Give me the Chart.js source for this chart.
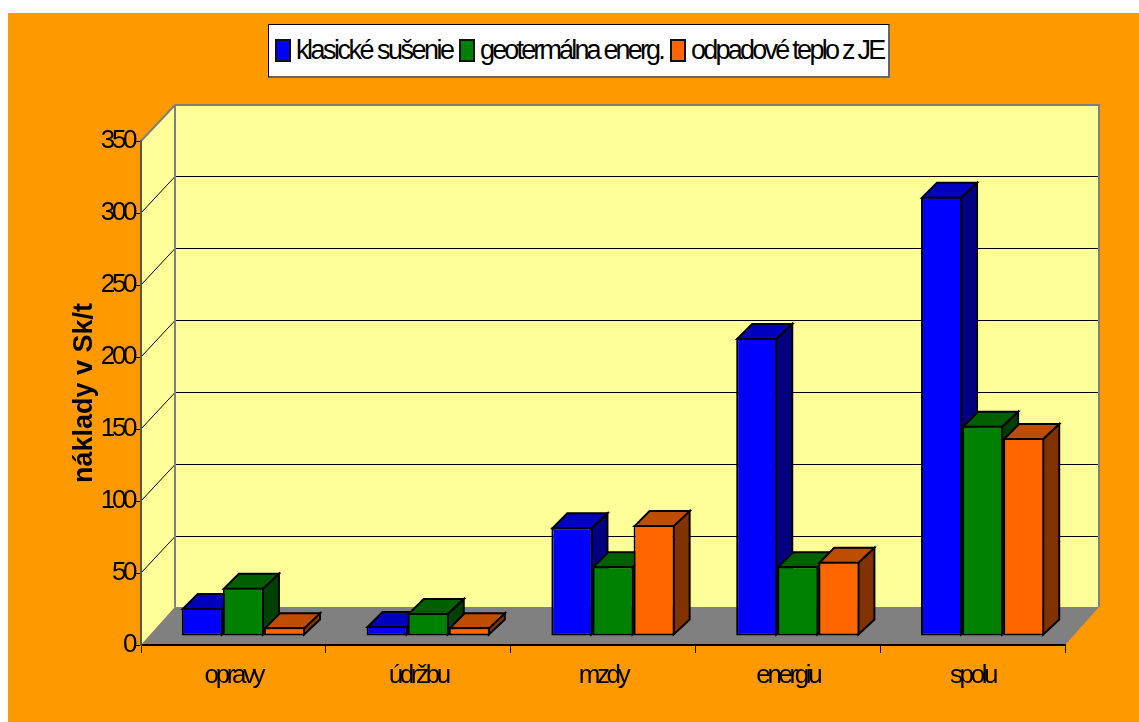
<!DOCTYPE html>
<html>
<head>
<meta charset="utf-8">
<script src="https://cdn.jsdelivr.net/npm/chart.js@4"></script>
<style>
  html, body { margin: 0; padding: 0; background: #fff; overflow: hidden; }
  #frame { position: absolute; left: 8px; top: 13px; width: 1131px; height: 709px; background: #ff9900; }
  #chart { position: absolute; left: 0; top: 0; }
  #legend {
    position: absolute; left: 260px; top: 11px; width: 619px; height: 51px;
    background: #fff; border: 1px solid #000; border-right: 2px solid #666; border-bottom: 2px solid #666;
    font: 27px "Liberation Sans", sans-serif; color: #000;
  }
  #legend .item { position: absolute; top: 0; height: 51px; line-height: 50px; white-space: nowrap; }
  #legend .swatch { position: absolute; left: 0; top: 14px; width: 12px; height: 19px; border: 2px solid #111; }
  #legend .name { position: absolute; left: 21px; top: 0; }
</style>
</head>
<body>
<div id="frame">
  <canvas id="chart" width="1131" height="709"></canvas>
  <div id="legend"></div>
</div>
<script>
const categories = ["opravy", "údržbu", "mzdy", "energiu", "spolu"];
const classicDrying = [19.5, 7, 75.5, 207, 305];
const geothermal = [33.5, 16, 48.5, 48.5, 146];
const wasteHeat = [6, 6, 77, 51.5, 137.5];
const seriesNames = ["klasické sušenie", "geotermálna energ.", "odpadové teplo z JE"];

const frontColors = ["#0000ff", "#008000", "#ff6600"];
const topColors = ["#0000bf", "#006000", "#bf4d00"];
const sideColors = ["#000080", "#004000", "#803300"];

// room depth and where the bars stand inside it
const roomDx = 34, roomDy = 36, floorDy = 38;
const barShiftX = 10, barShiftY = 9;
const barDx = 15, barDy = 15;
const legendLefts = [6, 190, 401];
const legendSpacing = [-2.5, -2.85, -2.75];

function poly(ctx, pts, fill, stroke, lineWidth) {
  ctx.beginPath();
  pts.forEach((p, i) => (i ? ctx.lineTo(p[0], p[1]) : ctx.moveTo(p[0], p[1])));
  ctx.closePath();
  if (fill) {
    ctx.fillStyle = fill;
    ctx.fill();
  }
  if (stroke) {
    ctx.strokeStyle = stroke;
    ctx.lineWidth = lineWidth;
    ctx.stroke();
  }
}

const room3d = {
  id: "room3d",
  beforeDraw(chart) {
    const { ctx, chartArea: a, scales } = chart;
    const backL = a.left + roomDx, backR = a.right + roomDx;
    const backT = a.top - roomDy, backB = a.bottom - floorDy;
    ctx.save();
    poly(ctx, [[a.left, a.top], [backL, backT], [backL, backB], [a.left, a.bottom]], "#ffff99");
    poly(ctx, [[backL, backT], [backR, backT], [backR, backB], [backL, backB]], "#ffff99");
    poly(ctx, [[a.left, a.bottom], [a.right, a.bottom], [backR, backB], [backL, backB]], "#808080");

    ctx.strokeStyle = "#000";
    ctx.lineWidth = 1;
    scales.y.ticks.forEach((t, i) => {
      if (t.value === 0 || t.value === scales.y.max) return;
      const py = Math.round(scales.y.getPixelForTick(i));
      ctx.beginPath();
      ctx.moveTo(a.left, py);
      ctx.lineTo(backL, py - roomDy - 0.5);
      ctx.lineTo(backR, py - roomDy - 0.5);
      ctx.stroke();
    });

    ctx.strokeStyle = "#808080";
    ctx.lineWidth = 2;
    ctx.beginPath();
    ctx.moveTo(a.left, a.top);
    ctx.lineTo(backL, backT);
    ctx.lineTo(backR, backT);
    ctx.lineTo(backR, backB);
    ctx.moveTo(backL, backT);
    ctx.lineTo(backL, backB);
    ctx.stroke();
    ctx.restore();
  },
  beforeDatasetsDraw(chart) {
    const { ctx } = chart;
    ctx.save();
    ctx.translate(barShiftX, -barShiftY);
    ctx.lineJoin = "miter";
    chart.data.datasets.forEach((ds, di) => {
      chart.getDatasetMeta(di).data.forEach((bar) => {
        const p = bar.getProps(["x", "y", "base", "width"], true);
        const l = p.x - p.width / 2, r = p.x + p.width / 2;
        poly(ctx, [[r - 1, p.y + 1], [r + barDx, p.y + 1 - barDy], [r + barDx, p.base - 1 - barDy], [r - 1, p.base - 1]],
          sideColors[di], "#000", 2);
        poly(ctx, [[l + 1, p.y + 1], [l + 1 + barDx, p.y + 1 - barDy], [r + barDx, p.y + 1 - barDy], [r - 1, p.y + 1]],
          topColors[di], "#000", 2);
      });
    });
  },
  afterDatasetsDraw(chart) {
    chart.ctx.restore();
    // tick labels are on a later layer, the squeezed look of the original
    chart.ctx.letterSpacing = "-3.4px";
  },
  afterDraw(chart) {
    chart.ctx.letterSpacing = "0px";
  },
};

const htmlLegend = {
  id: "htmlLegend",
  afterUpdate(chart) {
    const box = document.getElementById("legend");
    box.innerHTML = "";
    chart.data.datasets.forEach((ds, i) => {
      const item = document.createElement("div");
      item.className = "item";
      item.style.left = legendLefts[i] + "px";
      item.style.letterSpacing = legendSpacing[i] + "px";
      const swatch = document.createElement("div");
      swatch.className = "swatch";
      swatch.style.background = ds.backgroundColor;
      const name = document.createElement("span");
      name.className = "name";
      name.textContent = ds.label;
      item.append(swatch, name);
      box.appendChild(item);
    });
  },
};

const makeDataset = (label, data, i) => ({
  label,
  data,
  backgroundColor: frontColors[i],
  borderColor: "#000",
  borderWidth: 2,
  borderSkipped: false,
  categoryPercentage: 0.667,
  barPercentage: 1,
  clip: false,
});

new Chart(document.getElementById("chart").getContext("2d"), {
  type: "bar",
  data: {
    labels: categories,
    datasets: [
      makeDataset(seriesNames[0], classicDrying, 0),
      makeDataset(seriesNames[1], geothermal, 1),
      makeDataset(seriesNames[2], wasteHeat, 2),
    ],
  },
  plugins: [room3d, htmlLegend],
  options: {
    responsive: false,
    animation: false,
    layout: { autoPadding: false, padding: { left: 0, right: 74, top: 128, bottom: 0 } },
    plugins: { legend: { display: false }, tooltip: { enabled: false } },
    scales: {
      x: {
        afterFit(scale) {
          scale.height = 77;
        },
        border: { color: "#000", width: 2 },
        grid: { drawOnChartArea: false, drawTicks: true, tickLength: 8, tickColor: "#000", tickWidth: 1 },
        ticks: {
          z: 1,
          padding: 7,
          maxRotation: 0,
          color: "#000",
          font: { family: "'Liberation Sans', sans-serif", size: 26 },
        },
      },
      y: {
        min: 0,
        max: 350,
        afterFit(scale) {
          scale.width = 133;
        },
        border: { color: "#555", width: 2 },
        grid: { drawOnChartArea: false, drawTicks: true, tickLength: 6, tickColor: "#000", tickWidth: 1 },
        ticks: {
          z: 1,
          stepSize: 50,
          padding: 1,
          color: "#000",
          font: { family: "'Liberation Sans', sans-serif", size: 26 },
        },
        title: {
          display: true,
          text: "náklady v Sk/t",
          color: "#000",
          padding: { top: 60, bottom: 0 },
          font: { family: "'Liberation Sans', sans-serif", size: 27, weight: "bold" },
        },
      },
    },
  },
});
</script>
</body>
</html>
